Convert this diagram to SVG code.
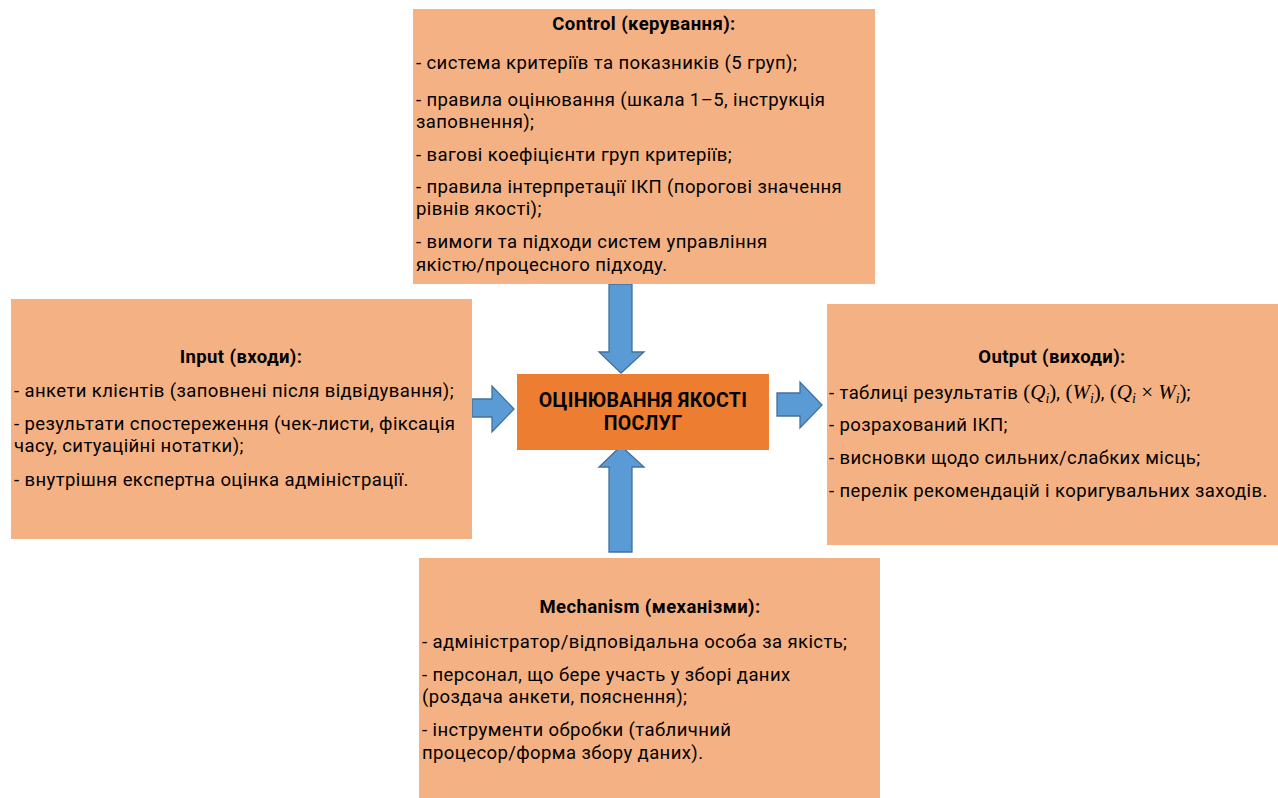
<svg xmlns="http://www.w3.org/2000/svg" width="1278" height="798" viewBox="0 0 1278 798">
<style>
.box{fill:#F4B183;}
.core{fill:#ED7D31;}
.arr{fill:#5B9BD5;stroke:#41719C;stroke-width:1.3;}
text{font-family:Roboto,"Liberation Sans",sans-serif;font-size:18.5px;letter-spacing:0.4px;fill:#000;}
.t{font-weight:bold;text-anchor:middle;}
.c{font-weight:bold;text-anchor:middle;font-size:19.5px;letter-spacing:0.3px;}
.m{font-family:"Liberation Serif","DejaVu Serif",serif;font-size:21px;letter-spacing:0;}
.mi{font-style:italic;}
.sub{font-size:14px;}
</style>
<rect width="1278" height="798" fill="#fff"/>
<g id="connectors">
<polygon class="arr" points="609,284 632,284 632,352 644,352 621,373 599,352 609,352"/>
<polygon class="arr" points="609,552 632,552 632,467 644,467 621,446 599,467 609,467"/>
<polygon class="arr" points="472,399 492,399 492,386 514,409 492,432 492,417 472,417"/>
<polygon class="arr" points="777,393 800,393 800,382 822,405 800,428 800,416 777,416"/>
</g>
<g id="control">
<rect class="box" x="413" y="9" width="462" height="275"/>
<text class="t" x="644" y="30">Control (керування):</text>
<text x="416" y="69">- система критеріїв та показників (5 груп);</text>
<text x="416" y="106">- правила оцінювання (шкала 1–5, інструкція</text>
<text x="416" y="128">заповнення);</text>
<text x="416" y="161">- вагові коефіцієнти груп критеріїв;</text>
<text x="416" y="193">- правила інтерпретації ІКП (порогові значення</text>
<text x="416" y="215">рівнів якості);</text>
<text x="416" y="248">- вимоги та підходи систем управління</text>
<text x="416" y="271">якістю/процесного підходу.</text>
</g>
<g id="input">
<rect class="box" x="11" y="299" width="461" height="240"/>
<text class="t" x="241" y="363">Input (входи):</text>
<text x="14" y="397">- анкети клієнтів (заповнені після відвідування);</text>
<text x="14" y="430">- результати спостереження (чек-листи, фіксація</text>
<text x="14" y="452">часу, ситуаційні нотатки);</text>
<text x="14" y="486">- внутрішня експертна оцінка адміністрації.</text>
</g>
<g id="process">
<rect class="core" x="517" y="374" width="252" height="76"/>
<text class="c" x="643" y="407">ОЦІНЮВАННЯ ЯКОСТІ</text>
<text class="c" x="643" y="430">ПОСЛУГ</text>
</g>
<g id="output">
<rect class="box" x="827" y="304" width="451" height="241"/>
<text class="t" x="1052" y="363">Output (виходи):</text>
<text x="829" y="399">- таблиці результатів <tspan class="m">(</tspan><tspan class="m mi">Q</tspan><tspan class="m mi sub" dy="4">i</tspan><tspan class="m" dy="-4">)</tspan>, <tspan class="m">(</tspan><tspan class="m mi">W</tspan><tspan class="m mi sub" dy="4">i</tspan><tspan class="m" dy="-4">)</tspan>, <tspan class="m">(</tspan><tspan class="m mi">Q</tspan><tspan class="m mi sub" dy="4">i</tspan><tspan class="m" dy="-4"> × </tspan><tspan class="m mi">W</tspan><tspan class="m mi sub" dy="4">i</tspan><tspan class="m" dy="-4">)</tspan>;</text>
<text x="829" y="431">- розрахований ІКП;</text>
<text x="829" y="464">- висновки щодо сильних/слабких місць;</text>
<text x="829" y="497">- перелік рекомендацій і коригувальних заходів.</text>
</g>
<g id="mechanism">
<rect class="box" x="419" y="558" width="461" height="240"/>
<text class="t" x="650" y="613">Mechanism (механізми):</text>
<text x="422" y="648">- адміністратор/відповідальна особа за якість;</text>
<text x="422" y="681">- персонал, що бере участь у зборі даних</text>
<text x="422" y="703">(роздача анкети, пояснення);</text>
<text x="422" y="736">- інструменти обробки (табличний</text>
<text x="422" y="759">процесор/форма збору даних).</text>
</g>
</svg>
